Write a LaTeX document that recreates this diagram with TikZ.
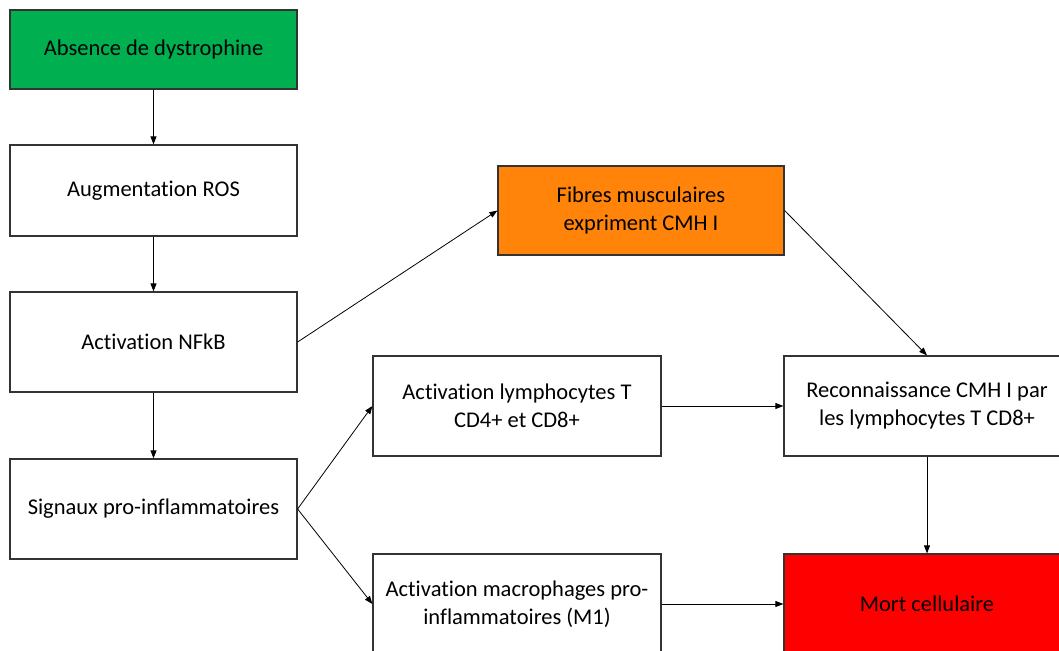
\documentclass[tikz,border=0pt]{standalone}
\usepackage{fontspec}
\setmainfont{Carlito}[Ligatures=NoCommon]
\usetikzlibrary{arrows.meta}
\definecolor{boxgreen}{HTML}{00B050}
\definecolor{boxorange}{HTML}{FF8409}
\definecolor{boxred}{HTML}{FF0000}
\begin{document}
\begin{tikzpicture}
[x=1pt,y=-1pt,
  every node/.style={shape=rectangle,draw=black!80,line width=1.2pt,
    align=center,font=\fontsize{22.5}{28}\selectfont,inner sep=0pt},
  fleche/.style={-{Triangle[length=8pt,width=6pt]},line width=0.8pt,black}]
\useasboundingbox (0,0) rectangle (1059,650);
\clip (0,0) rectangle (1059,650);
% colonne de gauche
\node[fill=boxgreen,minimum width=287pt,minimum height=79pt] (absence) at (153.5,49.5) {Absence de dystrophine};
\node[minimum width=287pt,minimum height=91pt] (ros) at (153.5,190.5) {Augmentation ROS};
\node[minimum width=287pt,minimum height=100pt] (nfkb) at (153.5,342) {Activation NFkB};
\node[minimum width=287pt,minimum height=100pt] (signaux) at (153.5,509) {Signaux pro-inflammatoires};
% colonne du milieu
\node[fill=boxorange,minimum width=286pt,minimum height=89pt] (fibres) at (641,210.5) {Fibres musculaires\\expriment CMH I};
\node[minimum width=288pt,minimum height=100pt] (lympho) at (517,406) {Activation lymphocytes T\\CD4+ et CD8+};
\node[minimum width=288pt,minimum height=100pt] (macro) at (517,604) {Activation macrophages pro-\\inflammatoires (M1)};
% colonne de droite
\node[minimum width=286pt,minimum height=100pt] (recon) at (927,406) {Reconnaissance CMH I par\\les lymphocytes T CD8+};
\node[fill=boxred,minimum width=286pt,minimum height=100pt] (mort) at (927,604) {Mort cellulaire};
% fleches
\draw[fleche] (absence) -- (ros);
\draw[fleche] (ros) -- (nfkb);
\draw[fleche] (nfkb) -- (signaux);
\draw[fleche] (nfkb.east) -- (fibres.west);
\draw[fleche] (signaux.east) -- (lympho.west);
\draw[fleche] (signaux.east) -- (macro.west);
\draw[fleche] (fibres.east) -- (recon.north);
\draw[fleche] (lympho) -- (recon);
\draw[fleche] (macro) -- (mort);
\draw[fleche] (recon) -- (mort);
\end{tikzpicture}
\end{document}
